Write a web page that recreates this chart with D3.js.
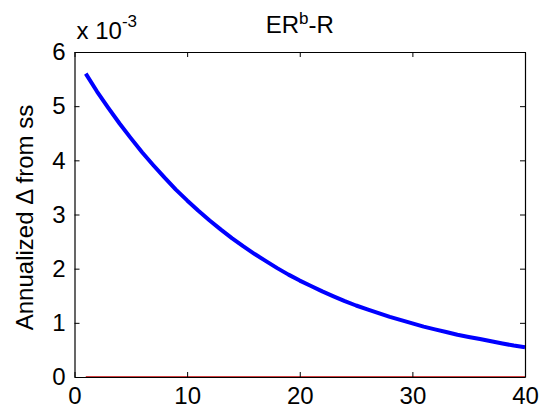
<!DOCTYPE html>
<html>
<head>
<meta charset="utf-8">
<script src="https://cdn.jsdelivr.net/npm/d3@7"></script>
<style>
html,body{margin:0;padding:0;background:#fff;}
svg text{font-family:"Liberation Sans",Arial,Helvetica,sans-serif;}
</style>
</head>
<body>
<svg id="chart" width="543" height="412"></svg>
<script>
// Data (values in units of 1e-3)
const periods = d3.range(1, 41);
const seriesValues = [5.60,5.27,4.97,4.68,4.41,4.15,3.91,3.68,3.46,3.26,
  3.07,2.89,2.72,2.56,2.41,2.27,2.14,2.01,1.89,1.78,
  1.68,1.58,1.49,1.40,1.32,1.25,1.18,1.11,1.05,0.99,
  0.93,0.88,0.83,0.78,0.74,0.70,0.66,0.62,0.58,0.55];
const zeroValues = periods.map(() => 0);
const xTicks = [0, 10, 20, 30, 40];
const yTicks = [0, 1, 2, 3, 4, 5, 6];

const svg = d3.select("#chart");
const m = {left: 74.5, right: 525, top: 52, bottom: 377};
const x = d3.scaleLinear().domain([0, 40]).range([m.left, m.right]);
const y = d3.scaleLinear().domain([0, 6]).range([m.bottom, m.top]);
const fs = 24;
const fmt = d3.format("d");

// Lines
const line = d3.line().x((d, i) => x(periods[i])).y(d => y(d));
svg.append("path").datum(zeroValues).attr("d", line)
  .attr("fill", "none").attr("stroke", "#c00000").attr("stroke-width", 1.5);
svg.append("path").datum(seriesValues).attr("d", line)
  .attr("fill", "none").attr("stroke", "#0000ff").attr("stroke-width", 4)
  .attr("stroke-linejoin", "round");

// Axes (inward ticks, box)
const tl = 5;
const axB = svg.append("g").attr("transform", `translate(0,${m.bottom})`)
  .call(d3.axisBottom(x).tickValues(xTicks).tickFormat(fmt).tickSizeInner(-tl).tickSizeOuter(0).tickPadding(10));
const axT = svg.append("g").attr("transform", `translate(0,${m.top})`)
  .call(d3.axisTop(x).tickValues(xTicks).tickSizeInner(-tl).tickSizeOuter(0).tickFormat(""));
const axL = svg.append("g").attr("transform", `translate(${m.left},0)`)
  .call(d3.axisLeft(y).tickValues(yTicks).tickFormat(fmt).tickSizeInner(-tl).tickSizeOuter(0).tickPadding(9));
const axR = svg.append("g").attr("transform", `translate(${m.right},0)`)
  .call(d3.axisRight(y).tickValues(yTicks).tickSizeInner(-tl).tickSizeOuter(0).tickFormat(""));
[axB, axT, axL, axR].forEach(g => {
  g.selectAll(".domain").attr("stroke", "#000").attr("stroke-width", 1.2);
  g.selectAll(".tick line").attr("stroke", "#000").attr("stroke-width", 1);
  g.selectAll("text").attr("font-size", fs).attr("fill", "#000")
    .style("font-family", '"Liberation Sans",Arial,sans-serif');
});
axB.selectAll(".tick text").attr("dy", "0.71em");

// Title
const title = svg.append("text").attr("x", (m.left + m.right) / 2).attr("y", 33)
  .attr("text-anchor", "middle").attr("font-size", fs);
title.append("tspan").text("ER");
title.append("tspan").text("b").attr("font-size", 17).attr("dy", -9);
title.append("tspan").text("-R").attr("dy", 9);

// Exponent label
const ex = svg.append("text").attr("x", m.left + 2).attr("y", 39).attr("font-size", fs);
ex.append("tspan").text("x 10");
ex.append("tspan").text("-3").attr("font-size", 17).attr("dy", -12);

// Y label
svg.append("text").attr("transform", `translate(33,${(m.top + m.bottom) / 2 + 3}) rotate(-90)`)
  .attr("text-anchor", "middle").attr("font-size", fs).text("Annualized \u0394 from ss");
</script>
</body>
</html>
